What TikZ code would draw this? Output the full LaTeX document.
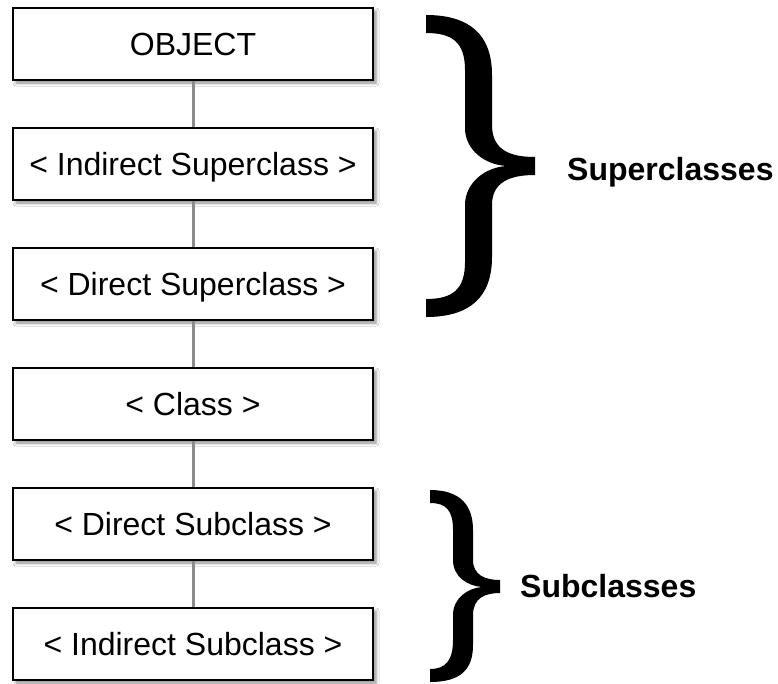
\documentclass[tikz,border=0pt]{standalone}
\usepackage{fontspec}
\setmainfont{Liberation Sans}
\usetikzlibrary{shadows.blur}
\begin{document}
\begin{tikzpicture}[x=1pt,y=-1pt,
  classbox/.style={draw=black, line width=2pt, fill=white, rectangle,
    minimum width=360pt, minimum height=72pt, inner sep=0pt,
    text height=23pt, text depth=0pt,
    font=\fontsize{32}{38}\selectfont,
    blur shadow={shadow xshift=3pt, shadow yshift=-3pt, shadow blur radius=3pt, shadow opacity=45}},
  conn/.style={draw=black!45, line width=3pt},
  bracelabel/.style={anchor=base west, inner sep=0pt, font=\fontsize{32}{38}\selectfont\bfseries},
  bracefill/.style={fill=black, draw=none}]
\useasboundingbox (0,0) rectangle (778,683);
\fill[white] (0,0) rectangle (778,683);
\draw[conn] (193,44) -- (193,644);
\node[classbox] (b1) at (193,44)  {OBJECT};
\node[classbox] (b2) at (193,164) {< Indirect Superclass >};
\node[classbox] (b3) at (193,284) {< Direct Superclass >};
\node[classbox] (b4) at (193,404) {< Class >};
\node[classbox] (b5) at (193,524) {< Direct Subclass >};
\node[classbox] (b6) at (193,644) {< Indirect Subclass >};
\draw[conn] (b1.south) -- (b2.north);
\draw[conn] (b2.south) -- (b3.north);
\draw[conn] (b3.south) -- (b4.north);
\draw[conn] (b4.south) -- (b5.north);
\draw[conn] (b5.south) -- (b6.north);
% big brace
\path[bracefill] (426,15) .. controls (470,15) and (492,35) .. (492,75) -- (492,125)
  .. controls (492,150) and (510,157) .. (535,157) -- (535,175)
  .. controls (510,175) and (492,182) .. (492,205) -- (492,257)
  .. controls (492,297) and (470,317) .. (426,317) -- (426,299)
  .. controls (452,299) and (465,290) .. (465,262) -- (465,205)
  .. controls (465,183) and (485,167) .. (507,166)
  .. controls (485,165) and (465,150) .. (465,128) -- (465,70)
  .. controls (465,42) and (452,33) .. (426,33) -- cycle;
% small brace
\path[bracefill] (430,490) .. controls (460,490) and (473,505) .. (473,530) -- (473,560)
  .. controls (473,575) and (485,580) .. (500,580) -- (500,593)
  .. controls (485,593) and (473,598) .. (473,615) -- (473,645)
  .. controls (473,670) and (460,682) .. (430,682) -- (430,669)
  .. controls (446,669) and (453,660) .. (453,640) -- (453,615)
  .. controls (453,598) and (468,588) .. (482,587)
  .. controls (468,586) and (453,577) .. (453,560) -- (453,530)
  .. controls (453,510) and (446,503) .. (430,503) -- cycle;
\node[bracelabel] (sup) at (567,180) {Superclasses};
\node[bracelabel] (sub) at (520,597) {Subclasses};
\end{tikzpicture}
\end{document}
